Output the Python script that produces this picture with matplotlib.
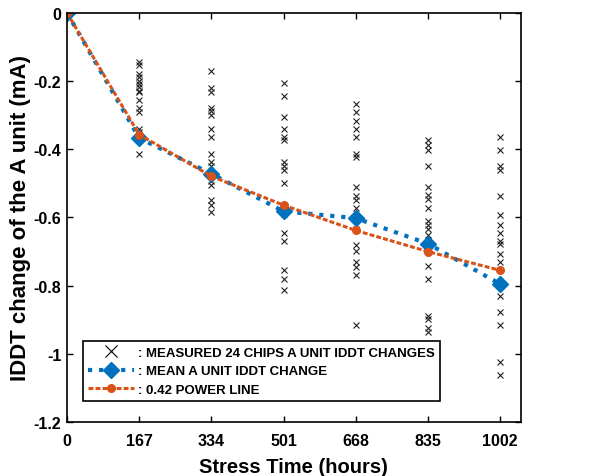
import matplotlib.pyplot as plt
from matplotlib.lines import Line2D

plt.rcParams['font.family'] = ['Liberation Sans', 'DejaVu Sans']
plt.rcParams['font.weight'] = 'bold'

stress_hours = [0, 167, 334, 501, 668, 835, 1002]

# measured chips (overlapping markers show only once)
chips_167 = [-0.145, -0.152, -0.179, -0.189, -0.199, -0.208, -0.218, -0.228, -0.233,
             -0.257, -0.279, -0.291, -0.340, -0.350, -0.358, -0.367, -0.413]
chips_334 = [-0.172, -0.221, -0.231, -0.279, -0.289, -0.301, -0.340, -0.365, -0.413,
             -0.438, -0.448, -0.472, -0.492, -0.506, -0.550, -0.562, -0.584]
chips_501 = [-0.205, -0.244, -0.306, -0.340, -0.365, -0.374, -0.436, -0.448, -0.462,
             -0.499, -0.584, -0.591, -0.645, -0.669, -0.754, -0.780, -0.814]
chips_668 = [-0.267, -0.291, -0.316, -0.340, -0.365, -0.413, -0.423, -0.511, -0.536,
             -0.548, -0.573, -0.633, -0.682, -0.697, -0.731, -0.744, -0.770, -0.914]
chips_835 = [-0.374, -0.387, -0.401, -0.450, -0.511, -0.534, -0.545, -0.573, -0.609,
             -0.622, -0.635, -0.651, -0.665, -0.677, -0.741, -0.780, -0.888, -0.899,
             -0.925, -0.936]
chips_1002 = [-0.365, -0.402, -0.448, -0.462, -0.536, -0.594, -0.622, -0.645, -0.668,
              -0.677, -0.707, -0.731, -0.829, -0.878, -0.915, -1.024, -1.062]

mean_change = [0, -0.367, -0.472, -0.582, -0.602, -0.677, -0.795]
power_line = [0, -0.357, -0.479, -0.564, -0.638, -0.700, -0.755]

blue = '#0072BD'
orange = '#D95319'

fig = plt.figure(figsize=(5.98, 4.77), dpi=100)
ax = fig.add_axes([0.112, 0.113, 0.759, 0.858])

all_chips = [chips_167, chips_334, chips_501, chips_668, chips_835, chips_1002]
for t, vals in zip(stress_hours[1:], all_chips):
    ax.plot([t] * len(vals), vals, linestyle='none', marker='x', color='#222222',
            markersize=3.8, markeredgewidth=0.8)

mean_style = dict(linestyle=':', color=blue, linewidth=3, marker='D', markersize=8.5)
power_style = dict(linestyle=(0, (1.6, 0.7)), color=orange, linewidth=2.2,
                   marker='o', markersize=5.5)
ax.plot(stress_hours, mean_change, **mean_style)
ax.plot(stress_hours, power_line, **power_style)

ax.set_xlim(0, 1050)
ax.set_ylim(-1.2, 0)
ax.set_xticks(stress_hours)
ax.set_xticklabels([str(t) for t in stress_hours])
yt = [-1.2, -1.0, -0.8, -0.6, -0.4, -0.2, 0]
ax.set_yticks(yt)
ax.set_yticklabels(['%g' % v for v in yt])
ax.tick_params(direction='in', top=True, right=True, labelsize=11.5, length=4, width=1)
ax.tick_params(axis='x', pad=8)
ax.tick_params(axis='y', pad=4)
for lbl in ax.get_xticklabels() + ax.get_yticklabels():
    lbl.set_fontweight('bold')
for s in ax.spines.values():
    s.set_linewidth(1.2)

ax.set_xlabel('Stress Time (hours)', fontsize=14.5, fontweight='bold', labelpad=6)
ax.set_ylabel('IDDT change of the A unit (mA)', fontsize=16, fontweight='bold', labelpad=2)

handles = [
    Line2D([], [], linestyle='none', marker='x', color='black', markersize=8,
           markeredgewidth=0.8),
    Line2D([], [], **mean_style),
    Line2D([], [], **power_style),
]
labels = [': MEASURED 24 CHIPS A UNIT IDDT CHANGES',
          ': MEAN A UNIT IDDT CHANGE',
          ': 0.42 POWER LINE']
leg = ax.legend(handles, labels, loc='lower left', bbox_to_anchor=(0.035, 0.051),
                borderaxespad=0, fancybox=False, edgecolor='black', framealpha=1,
                prop={'weight': 'bold', 'size': 9.5}, handlelength=3.5,
                handletextpad=0.3, labelspacing=0.48, borderpad=0.4)
leg.get_frame().set_linewidth(1.2)

plt.savefig('out.png', dpi=100)
plt.close()
